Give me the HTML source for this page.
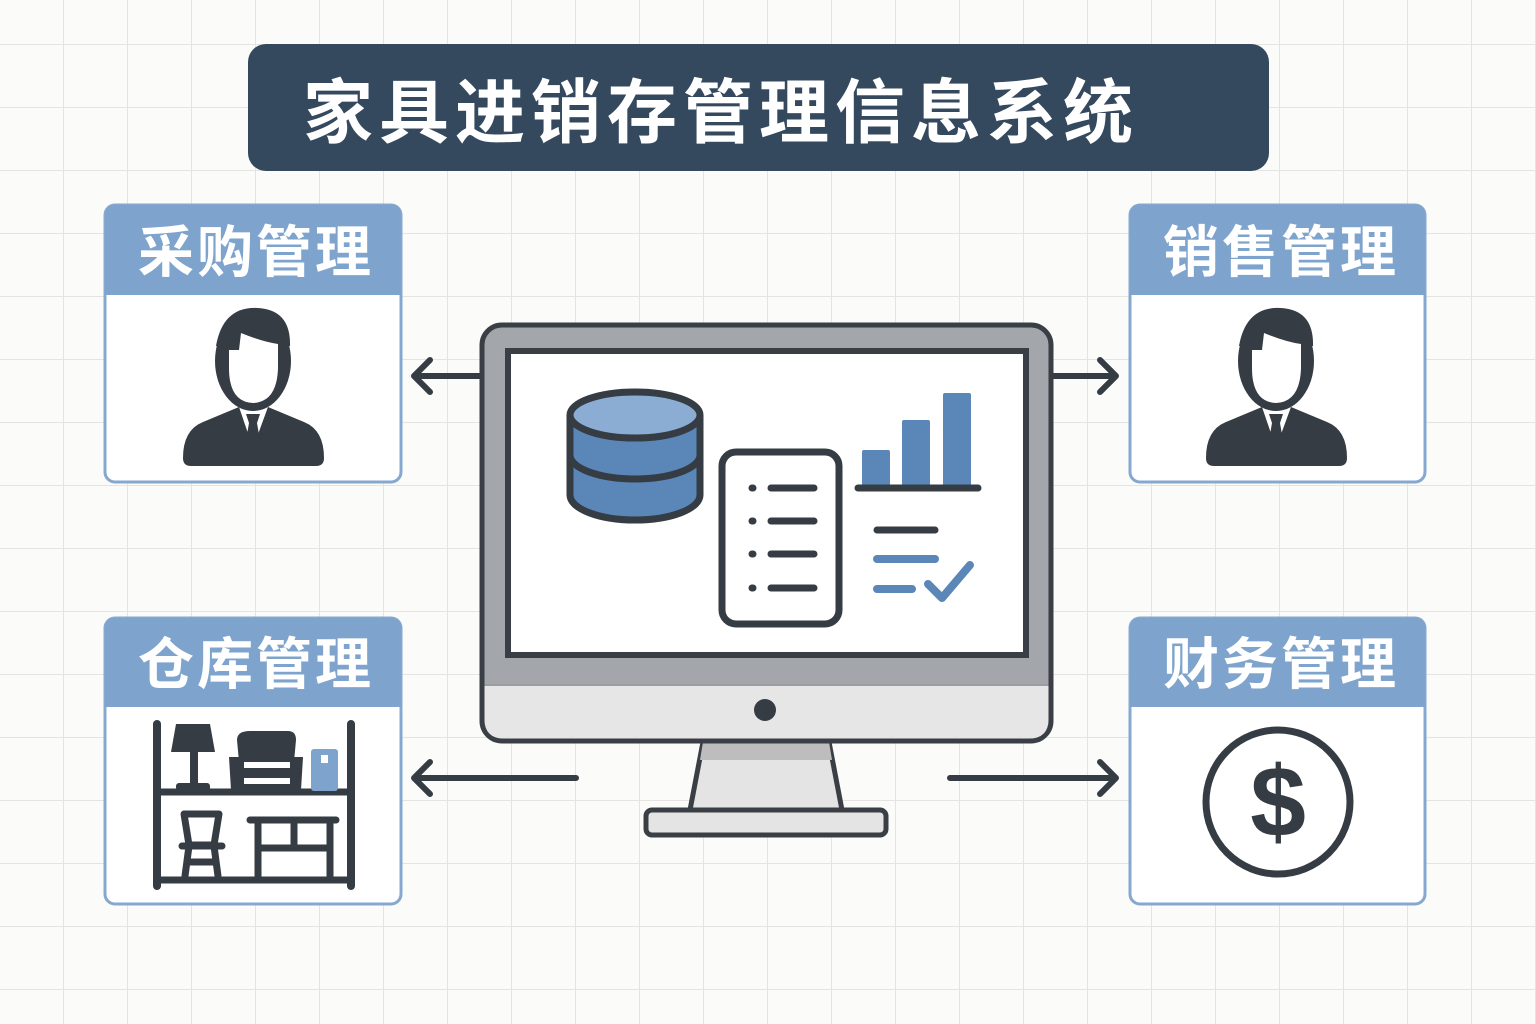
<!DOCTYPE html>
<html><head><meta charset="utf-8"><style>
html,body{margin:0;padding:0;width:1536px;height:1024px;overflow:hidden;background:#fbfbf9;}
svg{display:block;}
text{font-family:"Liberation Sans","Noto Sans CJK SC",sans-serif;font-weight:bold;}
</style></head><body>
<svg width="1536" height="1024" viewBox="0 0 1536 1024" xmlns="http://www.w3.org/2000/svg">
<defs>
<pattern id="g" x="0" y="-18" width="64" height="63" patternUnits="userSpaceOnUse">
<path d="M64 0V63M0 63H64" stroke="#e4e4e2" stroke-width="2" fill="none"/>
</pattern>
<g id="person">
<path d="M0,152 Q0,124 20,116 L56,101 L70,142 L85,101 L121,116 Q141,124 141,152 Q141,160 133,160 L8,160 Q0,160 0,152Z" fill="#353c43"/>
<path d="M63,108 L77,108 L74,117 L79,146 L70,156 L61,146 L66,117Z" fill="#353c43"/>
<ellipse cx="70" cy="55" rx="38" ry="50" fill="#353c43"/>
<path d="M33,40 Q40,0 75,2 Q108,4 107,40Z" fill="#353c43"/>
<path d="M46,44 L56,44 L58,27 Q80,36 95,38 L95,62 Q94,96 70,97 Q46,96 46,62Z" fill="#fff"/>
</g>
</defs>
<rect width="1536" height="1024" fill="url(#g)"/>

<rect x="248" y="44" width="1021" height="127" rx="18" fill="#34495e"/>
<text x="303" y="137" font-size="70" fill="#fff" letter-spacing="6">家具进销存管理信息系统</text>

<g stroke="#86a8cf" stroke-width="3">
<rect x="105" y="205" width="296" height="277" rx="10" fill="#fff"/>
<rect x="1130" y="205" width="295" height="277" rx="10" fill="#fff"/>
<rect x="105" y="618" width="296" height="286" rx="10" fill="#fff"/>
<rect x="1130" y="618" width="295" height="286" rx="10" fill="#fff"/>
</g>
<g fill="#7ea4cd">
<path d="M105,215 Q105,205 115,205 L391,205 Q401,205 401,215 L401,295 L105,295Z"/>
<path d="M1130,215 Q1130,205 1140,205 L1415,205 Q1425,205 1425,215 L1425,295 L1130,295Z"/>
<path d="M105,628 Q105,618 115,618 L391,618 Q401,618 401,628 L401,707 L105,707Z"/>
<path d="M1130,628 Q1130,618 1140,618 L1415,618 Q1425,618 1425,628 L1425,707 L1130,707Z"/>
</g>
<g fill="#fff" font-size="56" text-anchor="middle" letter-spacing="3">
<text x="256" y="272">采购管理</text>
<text x="1281" y="272">销售管理</text>
<text x="256" y="684">仓库管理</text>
<text x="1281" y="684">财务管理</text>
</g>

<use href="#person" x="183" y="306"/>
<use href="#person" x="1206" y="306"/>

<circle cx="1278" cy="802" r="72" fill="none" stroke="#353c43" stroke-width="7"/>
<text x="1278" y="836" font-size="100" fill="#353c43" text-anchor="middle">$</text>

<g stroke="#353c43" stroke-linecap="round" fill="none">
<path d="M157,724V886M351,724V886" stroke-width="8"/>
<path d="M157,792H351M157,880H351" stroke-width="7"/>
</g>
<g fill="#353c43">
<path d="M176,724 L210,724 L215,752 L171,752Z"/>
<rect x="190" y="750" width="8" height="36"/>
<rect x="176" y="783" width="34" height="8" rx="3"/>
<path d="M237,740 Q237,731 250,731 L288,731 Q296,731 296,740 L294,762 L239,762Z"/>
<path d="M229,757 L244,757 L244,768 L290,768 L290,757 L303,757 L301,790 L231,790Z"/>
<rect x="244" y="778" width="46" height="6" fill="#fff"/>
</g>
<rect x="311" y="749" width="27" height="42" rx="3" fill="#7ea4cd"/>
<rect x="321" y="755" width="7" height="8" fill="#fff"/>
<g stroke="#353c43" stroke-width="7" fill="none" stroke-linecap="round" stroke-linejoin="round">
<path d="M184,814 L219,814 L214,845 L189,845Z"/>
<path d="M182,846H222M189,846L185,876M214,846L218,876M189,862H214"/>
<path d="M250,820H336M258,820V876M330,820V876M258,848H330M294,820V848"/>
</g>

<g stroke="#353c43" stroke-width="6" fill="none" stroke-linecap="round" stroke-linejoin="round">
<path d="M480,376H416M430,360L414,376L430,392"/>
<path d="M1052,376H1114M1100,360L1116,376L1100,392"/>
<path d="M576,778H416M430,762L414,778L430,794"/>
<path d="M950,778H1114M1100,762L1116,778L1100,794"/>
</g>

<path d="M703,742 L829,742 L842,810 L690,810Z" fill="#e4e4e4" stroke="#3a3f45" stroke-width="5"/>
<path d="M703,742 L829,742 L832,760 L700,760Z" fill="#bdbdbd"/>
<rect x="646" y="810" width="240" height="25" rx="6" fill="#e4e4e4" stroke="#3a3f45" stroke-width="5"/>
<rect x="482" y="325" width="569" height="416" rx="20" fill="#a3a6ab" stroke="#3a3f45" stroke-width="5"/>
<path d="M484.5,685 L1048.5,685 L1048.5,719 Q1048.5,738.5 1029,738.5 L504,738.5 Q484.5,738.5 484.5,719Z" fill="#e6e6e6"/>
<path d="M484.5,685H1048.5" stroke="#9a9da2" stroke-width="2"/>
<circle cx="765" cy="710" r="11" fill="#353c43"/>
<rect x="508" y="351" width="518" height="304" fill="#fff" stroke="#3a3f45" stroke-width="6"/>

<g stroke="#353c43" stroke-width="7">
<path d="M570,415 V495 A65,25 0 0 0 700,495 V415" fill="#5b86b8"/>
<path d="M570,455 A65,24 0 0 0 700,455" fill="none"/>
<ellipse cx="635" cy="415" rx="65" ry="23" fill="#8badd3"/>
</g>
<rect x="722" y="452" width="117" height="172" rx="14" fill="#fff" stroke="#353c43" stroke-width="7"/>
<g stroke="#353c43" stroke-width="7" stroke-linecap="round">
<path d="M752,488h1M771,488H814M752,521h1M771,521H814M752,554h1M771,554H814M752,588h1M771,588H814"/>
</g>
<g fill="#5b86b8">
<rect x="862" y="450" width="28" height="38" rx="2"/>
<rect x="902" y="420" width="28" height="68" rx="2"/>
<rect x="943" y="393" width="28" height="95" rx="2"/>
</g>
<path d="M858,488H978" stroke="#353c43" stroke-width="7" stroke-linecap="round"/>
<path d="M877,530H935" stroke="#353c43" stroke-width="7" stroke-linecap="round"/>
<g stroke="#5b86b8" stroke-width="8" stroke-linecap="round" stroke-linejoin="round" fill="none">
<path d="M877,559H935M877,589H912M928,584L942,598L970,565"/>
</g>
</svg>
</body></html>
